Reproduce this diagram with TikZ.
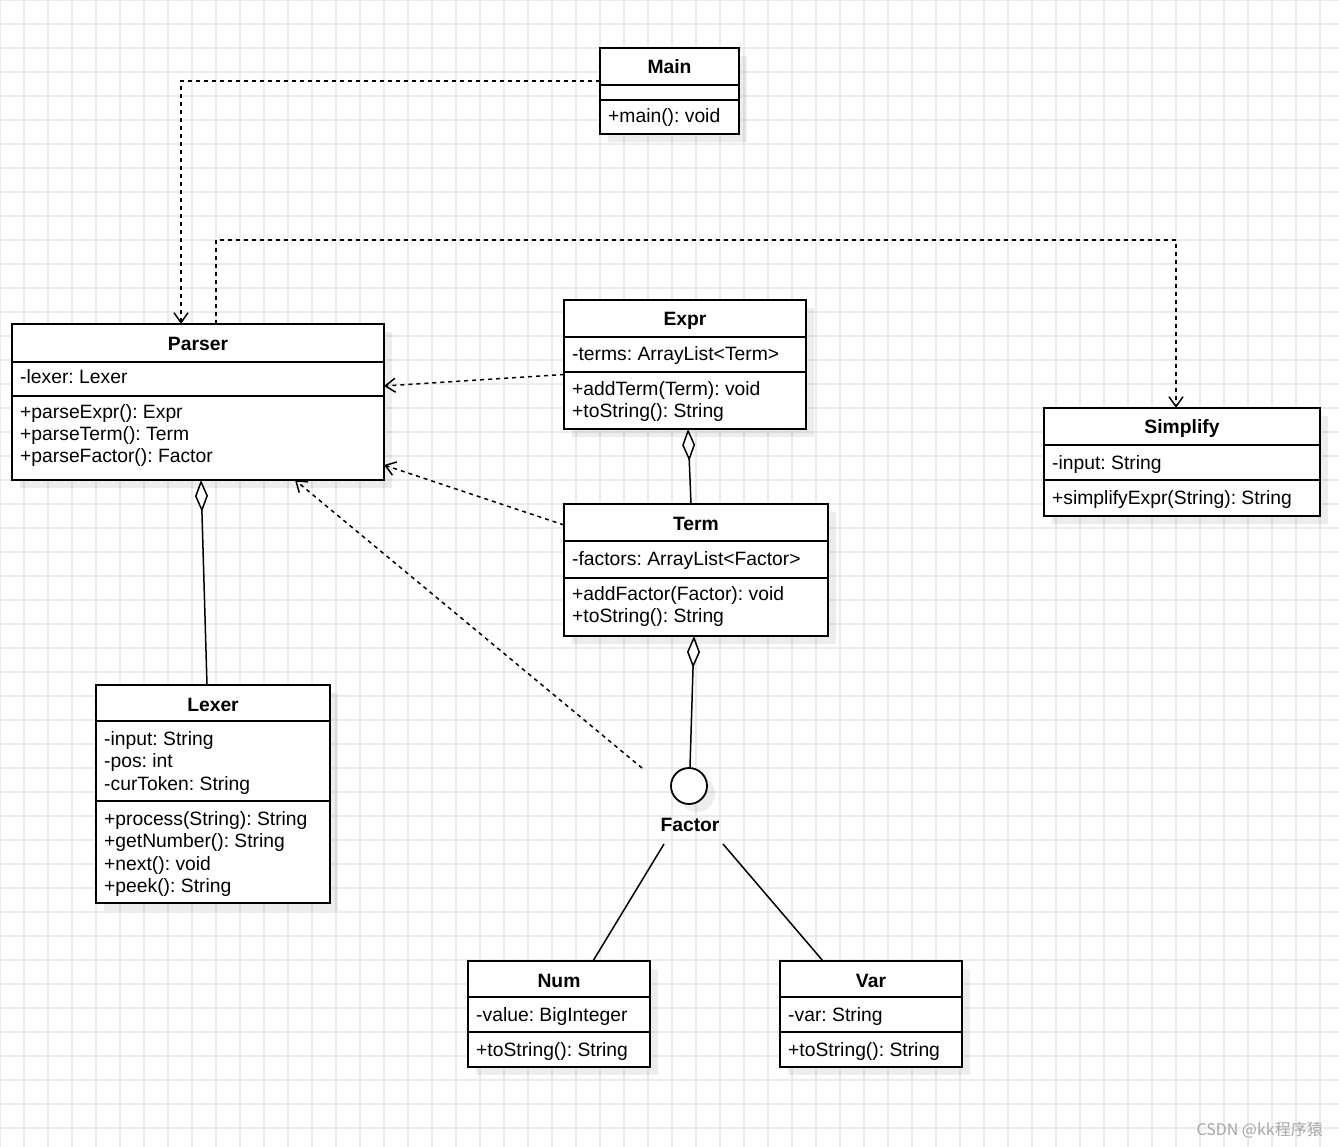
\documentclass[tikz,border=0pt]{standalone}
\usepackage{fontspec}
\setmainfont{Liberation Sans}
\newfontfamily\cjk{Noto Sans CJK SC}
\usetikzlibrary{arrows.meta,shadows}
\frenchspacing

% box of a class with its two divider lines
\newcommand{\classframe}[7]{%
  \node[classbox, minimum width=#4pt, minimum height=#5pt] (#1) at (#2,#3) {};
  \draw[divider] (#2,#6) -- ++(#4,0);
  \draw[divider] (#2,#7) -- ++(#4,0);
}

\begin{document}
\begin{tikzpicture}[x=1pt,y=-1pt,
  classbox/.style={draw, line width=1.8pt, fill=white, anchor=north west,
    inner sep=0pt, outer sep=0pt,
    drop shadow={shadow xshift=8pt, shadow yshift=-8pt, fill=black, opacity=0.07}},
  divider/.style={line width=1.8pt},
  classname/.style={font=\bfseries\fontsize{19.3}{22}\selectfont, anchor=base, inner sep=0pt},
  member/.style={font=\fontsize{19.3}{22}\selectfont, anchor=base west, inner sep=0pt},
  dep/.style={line width=1.5pt, dash pattern=on 4pt off 4pt,
    -{Straight Barb[length=10pt,width=14pt]}},
  agg/.style={line width=1.5pt, -{Diamond[fill=white,length=32pt,width=13pt]}},
  assoc/.style={line width=1.5pt},
  gridline/.style={line width=1.2pt, black!8}]

\useasboundingbox[fill=white] (0,0) rectangle (1339,1147);
\foreach \gx in {0,24,...,1339} \draw[gridline] (\gx,0) -- (\gx,1147);
\foreach \gy in {0,24,...,1147} \draw[gridline] (0,\gy) -- (1339,\gy);

% Main
\classframe{main}{600}{48}{139}{86}{85}{100}
\node[classname] (maint) at (669.5,74) {Main};
\node[member] (mainm) at (608,123) {+main(): void};

% Parser
\classframe{parser}{12}{324}{372}{156}{362}{396}
\node[classname] (parsert) at (198,351) {Parser};
\node[member] (parsera) at (20,384) {-lexer: Lexer};
\foreach \m [count=\i from 0] in {+parseExpr(): Expr, +parseTerm(): Term, +parseFactor(): Factor}
  \node[member] (parserm\i) at (20,{419+22*\i}) {\m};

% Expr
\classframe{expr}{564}{300}{242}{129}{337}{372}
\node[classname] (exprt) at (685,326) {Expr};
\node[member] (expra) at (572,361) {-terms: ArrayList<Term>};
\foreach \m [count=\i from 0] in {+addTerm(Term): void, +toString(): String}
  \node[member] (exprm\i) at (572,{396+22*\i}) {\m};

% Term
\classframe{term}{564}{504}{264}{132}{541}{578}
\node[classname] (termt) at (696,530) {Term};
\node[member] (terma) at (572,565) {-factors: ArrayList<Factor>};
\foreach \m [count=\i from 0] in {+addFactor(Factor): void, +toString(): String}
  \node[member] (termm\i) at (572,{600+22*\i}) {\m};

% Simplify
\classframe{simplify}{1044}{408}{276}{108}{445}{480}
\node[classname] (simplifyt) at (1182,434) {Simplify};
\node[member] (simplifya) at (1052,469) {-input: String};
\node[member] (simplifym) at (1052,504) {+simplifyExpr(String): String};

% Lexer
\classframe{lexer}{96}{685}{234}{218}{721}{801}
\node[classname] (lexert) at (213,711) {Lexer};
\foreach \m [count=\i from 0] in {-input: String, -pos: int, -curToken: String}
  \node[member] (lexera\i) at (104,{745+22.5*\i}) {\m};
\foreach \m [count=\i from 0] in {+process(String): String, +getNumber(): String, +next(): void, +peek(): String}
  \node[member] (lexerm\i) at (104,{825+22.5*\i}) {\m};

% Num
\classframe{num}{468}{961}{182}{106}{997}{1032}
\node[classname] (numt) at (559,987) {Num};
\node[member] (numa) at (476,1021) {-value: BigInteger};
\node[member] (numm) at (476,1056) {+toString(): String};

% Var
\classframe{var}{780}{961}{182}{106}{997}{1032}
\node[classname] (vart) at (871,987) {Var};
\node[member] (vara) at (788,1021) {-var: String};
\node[member] (varm) at (788,1056) {+toString(): String};

% Factor interface
\node[circle, draw, line width=1.8pt, fill=white, minimum size=36pt, inner sep=0pt,
  drop shadow={shadow xshift=8pt, shadow yshift=-8pt, fill=black, opacity=0.07}] (factor) at (689,786) {};
\node[classname] (factort) at (690,831) {Factor};

% dependencies
\draw[dep] ([yshift=10pt]main.west) -| ([xshift=-17pt]parser.north);
\draw[dep] ([xshift=18pt]parser.north) -- ++(0,-84) -| ([xshift=-6pt]simplify.north);
\draw[dep] ([yshift=-10pt]expr.west) -- ([yshift=16pt]parser.east);
\draw[dep] ([yshift=-21pt]term.north west) -- ([yshift=15pt]parser.south east);
\draw[dep] ([shift={(-47pt,18pt)}]factor.center) -- ([xshift=97pt]parser.south);

% aggregations
\draw[agg] ([xshift=-6pt]lexer.north) -- ([xshift=3pt]parser.south);
\draw[agg] ([xshift=-5pt]term.north) -- ([xshift=3pt]expr.south);
\draw[agg] ([xshift=1pt]factor.north) -- ([xshift=-2pt]term.south);

% realisations of Factor
\draw[assoc] ([shift={(-25pt,-58pt)}]factor.center) -- ([xshift=34pt]num.north);
\draw[assoc] ([shift={(34pt,-58pt)}]factor.center) -- ([xshift=-48pt]var.north);

\node[anchor=base east, inner sep=0pt, text=black!35, font=\cjk\fontsize{16}{18}\selectfont]
  (watermark) at (1323,1135) {CSDN @kk程序猿};
\end{tikzpicture}
\end{document}
